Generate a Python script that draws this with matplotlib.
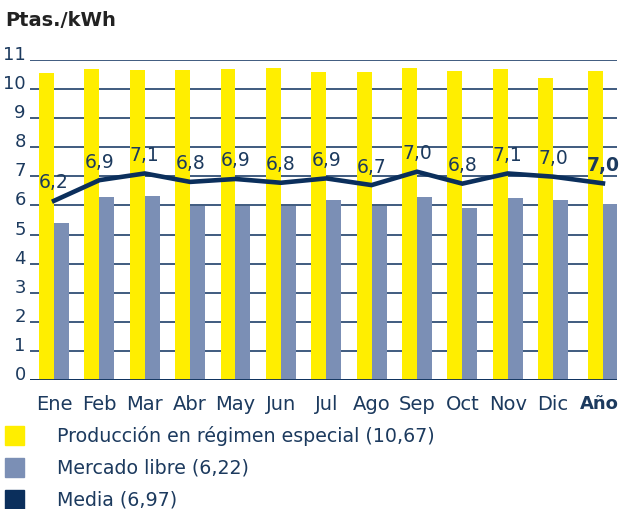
import numpy as np
import matplotlib.pyplot as plt
from matplotlib.patches import Rectangle
from matplotlib.transforms import ScaledTranslation

# data
meses = ['Ene', 'Feb', 'Mar', 'Abr', 'May', 'Jun', 'Jul', 'Ago', 'Sep', 'Oct', 'Nov', 'Dic', 'Año']
regimen_especial = [10.56, 10.69, 10.65, 10.65, 10.69, 10.72, 10.58, 10.58, 10.72, 10.62, 10.69, 10.38, 10.62]
mercado_libre = [5.41, 6.30, 6.33, 5.99, 5.98, 5.98, 6.19, 5.98, 6.30, 5.92, 6.27, 6.19, 6.05]
media = [6.16, 6.87, 7.10, 6.81, 6.91, 6.78, 6.93, 6.70, 7.16, 6.75, 7.10, 6.99, 6.76]
etiquetas_media = ['6,2', '6,9', '7,1', '6,8', '6,9', '6,8', '6,9', '6,7', '7,0', '6,8', '7,1', '7,0', '7,0']
leyenda = ['Producción en régimen especial (10,67)', 'Mercado libre (6,22)', 'Media (6,97)']

amarillo = '#FFEE00'
gris_azul = '#7B8FB5'
marino = '#0B2F5C'
texto = '#1C3A5E'
colores = [amarillo, gris_azul, marino]

plt.rcParams['font.family'] = ['DejaVu Sans']

x = np.arange(len(meses), dtype=float)
x[-1] = 12.1  # the annual group sits a bit apart
w = 0.33

W, H = 619, 509
fig = plt.figure(figsize=(W / 100, H / 100), dpi=100)
ax = fig.add_axes([30 / W, 1 - 380 / H, 587 / W, 320 / H])

ax.bar(x - w / 2, regimen_especial, width=w, color=amarillo, zorder=2)
ax.bar(x + w / 2, mercado_libre, width=w, color=gris_azul, zorder=2)
ax.plot(x, media, color=marino, lw=3.3, zorder=3, solid_joinstyle='miter')

for i, (xi, yi, lab) in enumerate(zip(x, media, etiquetas_media)):
    ultimo = i == len(meses) - 1
    ax.text(xi, yi + 0.62, lab, ha='center', va='center', fontsize=13.5, color=texto,
            fontweight='bold' if ultimo else 'normal', zorder=4)

ax.set_xlim(-0.53, 12.41)
ax.set_ylim(0, 11)
ax.set_yticks(range(0, 12))
ax.set_xticks(x)
ax.set_xticklabels(meses)
ax.tick_params(axis='y', length=0, pad=3, labelsize=13, labelcolor=texto)
ax.tick_params(axis='x', length=0, pad=11, labelsize=14, labelcolor=texto)
for lab in ax.get_yticklabels():
    lab.set_verticalalignment('baseline')
ult = ax.get_xticklabels()[-1]
ult.set_fontweight('bold')
ult.set_fontsize(13)
ult.set_transform(ult.get_transform() + ScaledTranslation(-4 / 100, 0, fig.dpi_scale_trans))
for s in ax.spines.values():
    s.set_visible(False)
ax.grid(axis='y', color=marino, lw=1.1, zorder=0)
ax.axhline(0, color=marino, lw=2, zorder=3)

fig.text(5 / W, 1 - 21 / H, 'Ptas./kWh', fontsize=14, fontweight='bold', color='#222222', va='center')

# legend rows, 32 px apart
for i, (lab, col) in enumerate(zip(leyenda, colores)):
    yc = 435.5 + 32 * i
    fig.add_artist(Rectangle((5 / W, 1 - (yc + 9.5) / H), 19 / W, 19 / H,
                             transform=fig.transFigure, color=col))
    fig.text(57 / W, 1 - yc / H, lab, fontsize=13.7, color=texto, va='center')

fig.savefig('out.png', dpi=100)
